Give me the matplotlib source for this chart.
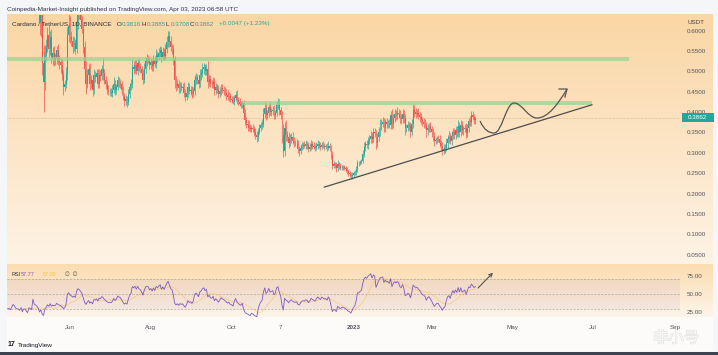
import numpy as np
import matplotlib.pyplot as plt
import matplotlib.transforms as mtransforms
import matplotlib.patheffects as pe
from matplotlib.path import Path
from matplotlib.patches import PathPatch, Rectangle

plt.rcParams['font.family'] = ['Liberation Sans', 'DejaVu Sans', 'Noto Sans CJK SC']

W, H = 718, 355

# ADA/USDT daily closes, 2022-04-01 .. 2023-04-03
closes = [
    # Apr 2022
    1.146, 1.130, 1.166, 1.168, 1.098, 1.040, 1.066, 1.004, 1.010, 0.980,
    0.912, 0.940, 0.970, 0.928, 0.950, 0.948, 0.928, 0.948, 0.972, 0.950,
    0.910, 0.898, 0.888, 0.870, 0.890, 0.810, 0.832, 0.830, 0.790, 0.762,
    # May
    0.797, 0.786, 0.768, 0.855, 0.781, 0.765, 0.745, 0.704, 0.620, 0.640,
    0.520, 0.475, 0.540, 0.560, 0.590, 0.555, 0.585, 0.530, 0.545, 0.525,
    0.532, 0.552, 0.528, 0.522, 0.515, 0.492, 0.462, 0.470, 0.495, 0.590,
    0.612,
    # Jun
    0.585, 0.575, 0.560, 0.570, 0.555, 0.620, 0.650, 0.640, 0.625, 0.605,
    0.560, 0.505, 0.470, 0.490, 0.505, 0.470, 0.480, 0.455, 0.490, 0.485,
    0.495, 0.470, 0.492, 0.488, 0.505, 0.495, 0.478, 0.468, 0.455, 0.450,
    # Jul
    0.450, 0.448, 0.455, 0.470, 0.455, 0.462, 0.478, 0.472, 0.468, 0.455,
    0.440, 0.428, 0.432, 0.425, 0.445, 0.462, 0.470, 0.510, 0.505, 0.515,
    0.502, 0.520, 0.510, 0.505, 0.495, 0.480, 0.505, 0.525, 0.530, 0.528,
    0.515,
    # Aug
    0.522, 0.512, 0.528, 0.518, 0.540, 0.535, 0.545, 0.552, 0.535, 0.548,
    0.538, 0.555, 0.572, 0.588, 0.575, 0.560, 0.555, 0.530, 0.478, 0.465,
    0.470, 0.458, 0.465, 0.460, 0.462, 0.448, 0.438, 0.448, 0.462, 0.452,
    0.455,
    # Sep
    0.445, 0.452, 0.478, 0.485, 0.480, 0.470, 0.490, 0.495, 0.505, 0.510,
    0.500, 0.505, 0.475, 0.482, 0.470, 0.468, 0.475, 0.455, 0.462, 0.455,
    0.445, 0.452, 0.460, 0.455, 0.452, 0.448, 0.442, 0.438, 0.440, 0.432,
    # Oct
    0.430, 0.425, 0.435, 0.442, 0.430, 0.425, 0.420, 0.418, 0.422, 0.398,
    0.380, 0.372, 0.368, 0.362, 0.358, 0.362, 0.358, 0.350, 0.345, 0.338,
    0.352, 0.362, 0.368, 0.372, 0.395, 0.410, 0.392, 0.398, 0.412, 0.400,
    0.402,
    # Nov
    0.405, 0.392, 0.398, 0.418, 0.422, 0.405, 0.392, 0.345, 0.305, 0.360,
    0.345, 0.340, 0.325, 0.335, 0.340, 0.330, 0.325, 0.323, 0.325, 0.310,
    0.305, 0.312, 0.318, 0.320, 0.318, 0.322, 0.320, 0.310, 0.315, 0.322,
    # Dec
    0.318, 0.315, 0.312, 0.318, 0.322, 0.318, 0.315, 0.320, 0.318, 0.315,
    0.316, 0.312, 0.318, 0.312, 0.295, 0.268, 0.272, 0.270, 0.262, 0.272,
    0.268, 0.262, 0.264, 0.265, 0.262, 0.260, 0.255, 0.250, 0.248, 0.242,
    0.246,
    # Jan 2023
    0.250, 0.252, 0.260, 0.275, 0.275, 0.278, 0.280, 0.298, 0.315, 0.322,
    0.320, 0.330, 0.335, 0.342, 0.335, 0.350, 0.348, 0.325, 0.338, 0.352,
    0.368, 0.372, 0.375, 0.362, 0.375, 0.370, 0.372, 0.368, 0.392, 0.370,
    0.385,
    # Feb
    0.395, 0.392, 0.398, 0.396, 0.385, 0.382, 0.395, 0.385, 0.360, 0.362,
    0.368, 0.365, 0.352, 0.370, 0.405, 0.400, 0.395, 0.398, 0.392, 0.388,
    0.380, 0.375, 0.372, 0.368, 0.355, 0.362, 0.365, 0.358,
    # Mar
    0.350, 0.338, 0.328, 0.332, 0.335, 0.334, 0.325, 0.318, 0.305, 0.310,
    0.312, 0.325, 0.335, 0.338, 0.330, 0.342, 0.352, 0.345, 0.355, 0.348,
    0.365, 0.352, 0.368, 0.355, 0.358, 0.362, 0.348, 0.362, 0.378, 0.375,
    0.392,
    # Apr
    0.3875, 0.3816, 0.3862,
]
first_open = 1.150

# wick lengths above / below the body, in thousandths of a dollar
wick_up = [
    20, 15, 25, 18, 30, 20, 22, 25, 15, 18, 30, 20, 25, 18, 15, 12, 20, 15, 18, 25,
    30, 15, 12, 18, 15, 30, 20, 22, 25, 18,
    15, 12, 10, 25, 40, 12, 10, 15, 20, 30, 40, 45, 25, 20, 18, 25, 15, 20, 15, 18,
    12, 10, 15, 12, 10, 15, 12, 10, 15, 20, 30,
    25, 15, 12, 15, 10, 25, 20, 15, 10, 12, 10, 15, 20, 15, 12, 15, 10, 12, 15, 10,
    12, 10, 15, 12, 10, 28, 12, 10, 8, 12,
    8, 10, 12, 15, 10, 8, 10, 8, 10, 8, 10, 8, 10, 8, 12, 10, 12, 20, 15, 12,
    15, 10, 12, 10, 8, 12, 15, 10, 12, 10, 8,
    10, 8, 12, 10, 15, 10, 12, 10, 8, 12, 10, 12, 15, 12, 10, 12, 8, 10, 8, 10,
    12, 8, 10, 8, 10, 12, 8, 10, 12, 10, 8,
    8, 10, 12, 10, 8, 10, 15, 12, 15, 10, 8, 12, 20, 10, 8, 10, 12, 8, 10, 8,
    12, 10, 8, 10, 8, 10, 8, 12, 10, 8,
    8, 10, 8, 10, 12, 8, 10, 8, 6, 8, 10, 8, 8, 12, 8, 6, 8, 8, 10, 8,
    10, 8, 8, 10, 15, 15, 10, 8, 10, 12, 8,
    10, 12, 8, 10, 12, 10, 8, 10, 25, 15, 20, 8, 10, 12, 8, 10, 8, 6, 8, 6,
    8, 10, 8, 6, 8, 10, 8, 6, 8, 10,
    6, 8, 6, 8, 10, 6, 8, 6, 8, 6, 5, 8, 10, 6, 8, 10, 8, 6, 8, 10,
    6, 8, 5, 4, 6, 5, 6, 5, 6, 5, 6,
    5, 6, 8, 8, 6, 5, 6, 10, 12, 8, 10, 8, 10, 12, 10, 12, 10, 8, 10, 12,
    15, 10, 12, 10, 8, 10, 8, 12, 10, 15, 10,
    12, 10, 15, 10, 8, 10, 12, 10, 10, 8, 10, 8, 10, 12, 15, 12, 10, 10, 12, 8,
    10, 8, 10, 12, 8, 10, 8, 10,
    8, 10, 12, 8, 6, 8, 10, 6, 8, 12, 10, 12, 10, 15, 10, 12, 10, 8, 10, 12,
    15, 10, 12, 10, 8, 10, 12, 10, 8, 12, 10,
    10, 7, 2.3,
]
wick_dn = [
    18, 22, 15, 20, 15, 25, 15, 18, 20, 22, 15, 25, 12, 20, 15, 18, 15, 20, 12, 15,
    18, 20, 15, 22, 25, 20, 22, 15, 18, 25,
    20, 15, 18, 12, 10, 20, 18, 25, 30, 35, 30, 75, 20, 15, 12, 20, 15, 10, 15, 12,
    10, 15, 12, 15, 18, 12, 20, 10, 12, 15, 18,
    15, 12, 15, 10, 12, 10, 15, 12, 10, 12, 15, 10, 25, 10, 12, 15, 10, 15, 10, 12,
    10, 12, 10, 12, 10, 15, 10, 12, 10, 8,
    10, 8, 10, 8, 12, 10, 8, 10, 8, 12, 10, 12, 10, 12, 8, 10, 8, 10, 12, 10,
    8, 12, 10, 8, 12, 10, 8, 10, 12, 8, 10,
    8, 12, 10, 8, 10, 12, 8, 10, 12, 8, 10, 8, 10, 12, 15, 10, 12, 15, 20, 12,
    8, 10, 12, 8, 10, 12, 10, 8, 10, 8, 10,
    10, 8, 10, 8, 12, 10, 8, 10, 8, 12, 10, 8, 15, 10, 8, 10, 8, 12, 10, 8,
    10, 8, 10, 8, 10, 8, 12, 8, 10, 8,
    8, 6, 8, 8, 10, 8, 6, 8, 8, 10, 12, 10, 15, 8, 8, 6, 8, 8, 10, 12,
    8, 6, 8, 10, 8, 10, 12, 8, 10, 8, 10,
    10, 8, 10, 8, 10, 12, 10, 20, 15, 12, 15, 10, 12, 8, 10, 8, 10, 6, 8, 10,
    12, 8, 6, 8, 6, 8, 10, 8, 6, 8,
    8, 6, 8, 6, 8, 6, 8, 6, 5, 8, 6, 8, 6, 8, 10, 8, 6, 8, 10, 6,
    8, 5, 4, 6, 5, 6, 8, 6, 8, 6, 5,
    5, 4, 6, 6, 8, 5, 6, 5, 8, 10, 8, 10, 8, 10, 12, 8, 10, 15, 10, 8,
    10, 12, 8, 10, 12, 8, 10, 8, 10, 12, 10,
    10, 12, 10, 8, 12, 10, 8, 12, 15, 10, 8, 10, 12, 8, 10, 12, 10, 8, 10, 12,
    8, 10, 12, 8, 15, 10, 12, 8,
    10, 8, 12, 6, 8, 8, 10, 12, 10, 8, 10, 8, 12, 10, 8, 10, 8, 10, 12, 8,
    10, 12, 10, 8, 10, 8, 12, 8, 10, 8, 10,
    8, 10, 10.8,
]

# drawings on the chart
zone_top = (0.5255, 0.5353)
zone_top_end = '2023-07-28'
zone_mid = (0.4175, 0.4280)
zone_mid_start, zone_mid_end = '2022-10-09', '2023-06-30'
trend_dates = ['2022-12-10', '2023-06-30']
trend_prices = [0.216, 0.418]

tick_dates = ['2022-06-01', '2022-08-01', '2022-10-01', '2022-11-07', '2023-01-01',
              '2023-03-01', '2023-05-01', '2023-07-01', '2023-09-01']
tick_labels = ['Jun', 'Aug', 'Oct', '7', '2023', 'Mar', 'May', 'Jul', 'Sep']
price_ticks = [0.05, 0.10, 0.15, 0.20, 0.25, 0.30, 0.35, 0.40, 0.45, 0.50, 0.55, 0.60]
rsi_ticks = [25, 50, 75]

GREEN, RED = '#26a69a', '#ef5350'
PURPLE = '#7e57c2'

day0 = np.datetime64('2023-01-01')


def dnum(s):
    return int((np.datetime64(s) - day0).astype(int))


dates = np.arange('2022-04-01', '2023-04-04', dtype='datetime64[D]')
x = (dates - day0).astype(int)
c = np.array(closes)
assert len(c) == len(x) == len(wick_up) == len(wick_dn), (len(c), len(x), len(wick_up), len(wick_dn))
o = np.r_[first_open, c[:-1]]
hi = np.maximum(o, c) + np.array(wick_up) / 1000
lo = np.minimum(o, c) - np.array(wick_dn) / 1000


# RSI 14 (Wilder) + 14 SMA
def rma(v, n):
    out = np.full(len(v), np.nan)
    out[n - 1] = v[:n].mean()
    for i in range(n, len(v)):
        out[i] = (out[i - 1] * (n - 1) + v[i]) / n
    return out


d = np.diff(c)
ag = rma(np.clip(d, 0, None), 14)
al = rma(np.clip(-d, 0, None), 14)
rsi = 100 - 100 / (1 + ag / al)
rsi_x = x[1:]
ok = ~np.isnan(rsi)
rsi_x, rsi = rsi_x[ok], rsi[ok]
rsi_ma = np.convolve(rsi, np.ones(14) / 14, mode='valid')
rsi_ma_x = rsi_x[13:]

fig = plt.figure(figsize=(W / 100, H / 100), dpi=100)
fig.set_facecolor('#f5f6f8')

# background panels (pixel coordinates)
bg = fig.add_axes([0, 0, 1, 1], zorder=-5)
bg.axis('off')


def vgrad(top, bot, y0, y1):
    t = np.linspace(0, 1, 200)[:, None, None]
    arr = (np.array(top)[None, None, :] + (np.array(bot) - np.array(top))[None, None, :] * t) / 255
    bg.imshow(arr, extent=[7, 713, y1, y0], aspect='auto', interpolation='bilinear')


vgrad((250, 214, 164), (254, 243, 229), 15, 264.5)
vgrad((251, 220, 176), (253, 245, 234), 264.5, 317)
bg.add_patch(Rectangle((7, 317), 706, 34, color='#fcfbf9', lw=0))
bg.add_patch(Rectangle((0, 351.5), W, 4, color='#3e4351', lw=0))
bg.set_xlim(0, W)
bg.set_ylim(H, 0)

xl = ((7 - 353.5) / 1.3247, (680 - 353.5) / 1.3247)

ax = fig.add_axes([7 / W, 1 - 264 / H, 673 / W, 249 / H])
axr = fig.add_axes([7 / W, 1 - 317 / H, 673 / W, 52 / H])
for a in (ax, axr):
    a.set_facecolor('none')
    for s in a.spines.values():
        s.set_visible(False)
    a.set_xlim(*xl)

# candles
up = c >= o
cols = np.where(up, GREEN, RED)
ax.vlines(x, lo, hi, colors=cols, lw=0.5, zorder=2)
ax.bar(x, c - o, bottom=o, width=0.7, color=cols, linewidth=0, zorder=2)

# zones and trend line
ax.fill_between([xl[0], dnum(zone_top_end)], *zone_top, color='#93d492', alpha=0.7, lw=0, zorder=3)
ax.fill_between([dnum(zone_mid_start), dnum(zone_mid_end)], *zone_mid, color='#93d492', alpha=0.7, lw=0, zorder=3)
ax.plot([dnum(s) for s in trend_dates], trend_prices, color='#4d4d4d', lw=0.9, zorder=4)

# hand-drawn projection
verts = [(95.5, 0.3782), (98.5, 0.3561), (102.3, 0.3487), (106.1, 0.3487),
         (112.1, 0.3487), (115.1, 0.4224), (121.2, 0.4224),
         (127.2, 0.4224), (131.7, 0.3855), (138.5, 0.3855),
         (146.8, 0.3855), (154.4, 0.4199), (161.2, 0.4567)]
codes = [Path.MOVETO] + [Path.CURVE4] * 12
ax.add_patch(PathPatch(Path(verts, codes), fc='none', ec='#555555', lw=0.9, zorder=4))
ax.plot([155.1, 161.2, 159.6], [0.4567, 0.4567, 0.4371], color='#555555', lw=0.9, zorder=4)

# last price line + tag
ax.axhline(c[-1], color='#c9a57a', lw=0.5, ls=(0, (1, 1)), alpha=0.8, zorder=1)
blend = mtransforms.blended_transform_factory(ax.transAxes, ax.transData)
ax.add_patch(Rectangle((1.003, c[-1] - 0.011), 0.047, 0.022, transform=blend, clip_on=False,
                       fc=GREEN, ec='none', zorder=10))
ax.text(1.0265, c[-1], f'{c[-1]:.4f}', transform=blend, ha='center', va='center',
        fontsize=4.5, color='white', zorder=11, clip_on=False)

ax.set_ylim(0.0272, 0.6384)
ax.set_xticks([])
ax.yaxis.tick_right()
ax.set_yticks(price_ticks)
ax.set_yticklabels([f'{v:.4f}' for v in price_ticks])
ax.tick_params(axis='y', length=0, pad=5, labelsize=4.5, labelcolor='#50535e')

# RSI pane
axr.fill_between(xl, 30, 70, color=PURPLE, alpha=0.07, lw=0)
for lvl in (70, 50, 30):
    axr.axhline(lvl, color='#8f8a86', lw=0.5, ls=(0, (3, 2)), alpha=0.7)
axr.plot(rsi_ma_x, rsi_ma, color='#f5c04a', lw=0.6, alpha=0.55)
axr.plot(rsi_x, rsi, color=PURPLE, lw=0.6)
axr.annotate('', xy=(105.3, 79), xytext=(94.0, 58.2),
             arrowprops=dict(arrowstyle='->', color='#555555', lw=0.8,
                             shrinkA=0, shrinkB=0, mutation_scale=6))
axr.set_ylim(18.7, 89.5)
axr.yaxis.tick_right()
axr.set_yticks(rsi_ticks)
axr.set_yticklabels([f'{v:.2f}' for v in rsi_ticks])
axr.tick_params(axis='y', length=0, pad=5, labelsize=4.5, labelcolor='#50535e')
axr.set_xticks([dnum(s) for s in tick_dates])
axr.set_xticklabels(tick_labels)
axr.tick_params(axis='x', length=0, pad=5.5, labelsize=4.5, labelcolor='#50535e')
axr.get_xticklabels()[4].set_fontweight('bold')


def fx(px):
    return px / W


def fy(py):
    return 1 - py / H


# cover top of the 0.6000 label under the USDT caption
fig.patches.append(Rectangle((fx(681), fy(29)), 32 / W, 14 / H, transform=fig.transFigure,
                             fc='#fad7a6', ec='none', zorder=2))
fig.text(fx(687), fy(23), 'USDT', fontsize=4.5, color='#444444', va='center', zorder=3)

fig.text(fx(7), fy(9.5), 'Coinpedia-Market-Insight published on TradingView.com, Apr 03, 2023 06:58 UTC',
         fontsize=4.6, color='#333333', va='center')

ty = fy(24)
fig.text(fx(12), ty, 'Cardano / TetherUS, 1D, BINANCE', fontsize=4.6, color='#2a2e39', va='center')
for lx, lab, val in [(117, 'O', '0.3816'), (142, 'H', '0.3885'), (166, 'L', '0.3708'), (190, 'C', '0.3862')]:
    fig.text(fx(lx), ty, lab, fontsize=4.5, color='#2a2e39', va='center')
    fig.text(fx(lx + 5), ty, val, fontsize=4.5, color=GREEN, va='center')
fig.text(fx(219), ty, '+0.0047 (+1.23%)', fontsize=4.5, color=GREEN, va='center')

ry = fy(275)
fig.text(fx(11), ry, 'RSI', fontsize=4, color='#2a2e39', va='center')
fig.text(fx(21), ry, f'{57.77:.2f}', fontsize=4, color=PURPLE, va='center')
fig.text(fx(43), ry, f'{rsi_ma[-1]:.2f}', fontsize=4, color='#f5c04a', va='center')
fig.text(fx(65), ry, '∅  ∅', fontsize=4, color='#555555', va='center')

fig.text(fx(8), fy(345), '17', fontsize=5, fontweight='bold', color='#131722', va='center')
fig.text(fx(18), fy(345), 'TradingView', fontsize=4.6, color='#131722', va='center')
fig.text(fx(676), fy(338), '非小号', fontsize=11, color='white', ha='center', va='center',
         family=['Noto Sans CJK SC', 'DejaVu Sans'], alpha=0.85,
         path_effects=[pe.withStroke(linewidth=0.7, foreground='#d4d4d4')])

fig.savefig('out.png', dpi=100)
